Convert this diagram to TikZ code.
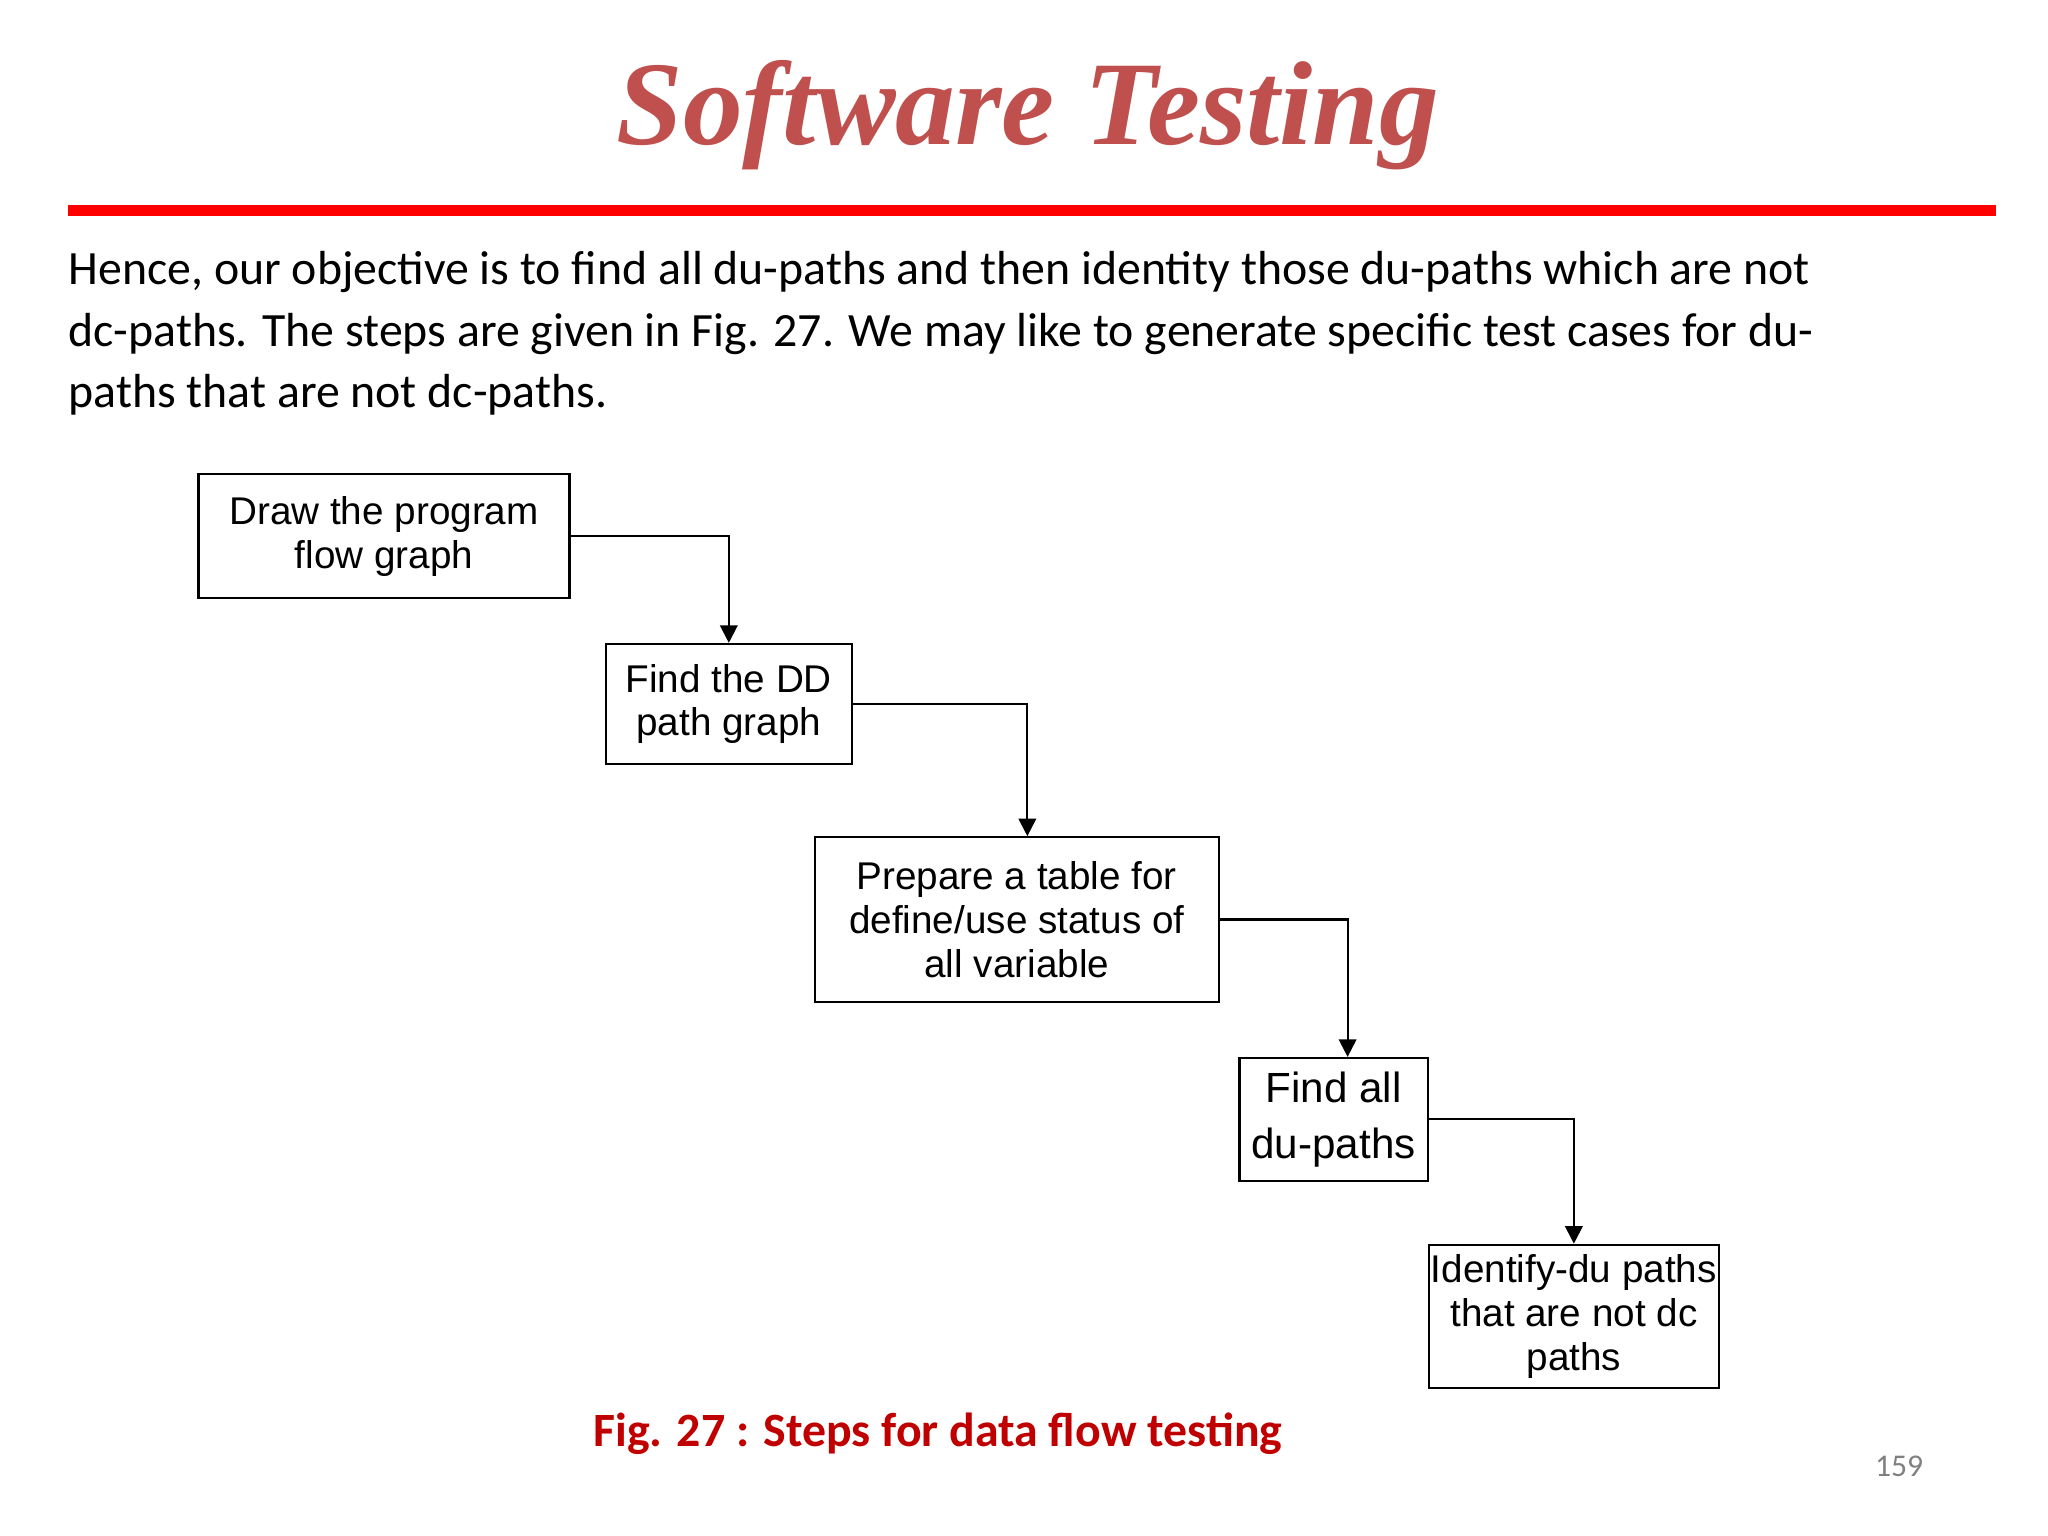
\documentclass[tikz,border=0pt]{standalone}
\usepackage{fontspec}
\setmainfont{Carlito}
\newfontfamily\arialf{Liberation Sans}
\newfontfamily\titlef{Liberation Serif}
\usetikzlibrary{arrows.meta}
\definecolor{titlered}{RGB}{192,80,77}
\definecolor{capred}{RGB}{192,0,0}
\begin{document}
\begin{tikzpicture}[x=0.013061cm,y=-0.013061cm,
  stepbox/.style={draw,line width=0.6pt,inner sep=0pt,font=\arialf\fontsize{11}{12.5}\selectfont,align=center},
  conn/.style={draw,line width=0.6pt,-{Triangle[length=5pt,width=5pt]}}]
\useasboundingbox (0,0) rectangle (1568,1176);
\node[font=\titlef\bfseries\itshape\fontsize{34}{38}\selectfont,text=titlered] (title) at (787,88) {Software Testing};
\draw[red,line width=3pt] (52,161) -- (1528,161);
\node[anchor=north west,inner sep=0pt,align=left,font=\fontsize{13.6}{17.5}\selectfont] (body) at (52,192)
{Hence, our objective is to find all du-paths and then identity those du-paths which are not\\
dc-paths. The steps are given in Fig. 27. We may like to generate specific test cases for du-\\
paths that are not dc-paths.};
\path (152,363) coordinate (a1) (436,458) coordinate (a2);
\node[stepbox,minimum width=284*0.013061cm,minimum height=95*0.013061cm] (b1) at (294,410.5) {Draw the program\\flow graph};
\node[stepbox,minimum width=188*0.013061cm,minimum height=92*0.013061cm] (b2) at (558,539) {Find the DD\\path graph};
\node[stepbox,minimum width=309*0.013061cm,minimum height=126*0.013061cm] (b3) at (778.5,704) {Prepare a table for\\define/use status of\\all variable};
\node[stepbox,minimum width=144*0.013061cm,minimum height=94*0.013061cm,font=\arialf\fontsize{12}{16}\selectfont] (b4) at (1021,857) {Find all\\du-paths};
\node[stepbox,minimum width=222*0.013061cm,minimum height=110*0.013061cm] (b5) at (1205,1008) {Identify-du paths\\that are not dc\\paths};
\draw[conn] (b1.east) -| (b2.north);
\draw[conn] (b2.east) -| ([xshift=3pt]b3.north);
\draw[conn] (b3.east) -| ([xshift=4pt]b4.north);
\draw[conn] (b4.east) -| (b5.north);
\node[font=\bfseries\fontsize{13.6}{16}\selectfont,text=capred] (cap) at (718,1098) {Fig. 27 : Steps for data flow testing};
\node[font=\fontsize{9}{10}\selectfont,text=gray] (pg) at (1454,1123) {159};
\end{tikzpicture}
\end{document}
